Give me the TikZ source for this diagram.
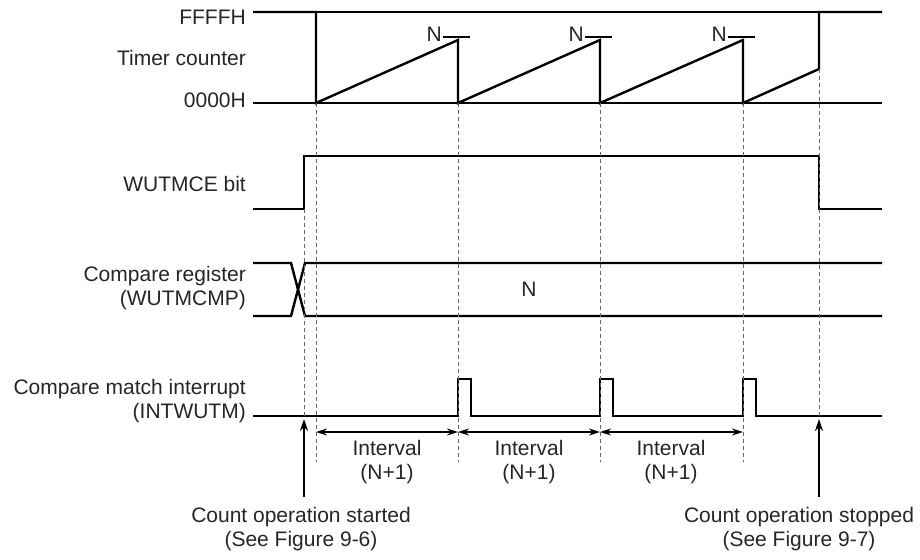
\documentclass[tikz,border=0pt]{standalone}
\usepackage{fontspec}
\setmainfont{Liberation Sans}
\usetikzlibrary{arrows.meta}
\tikzset{
	lbl/.style={font=\fontsize{21}{24}\selectfont, text=black!85, inner sep=0pt},
	wave/.style={line width=2.4pt, line join=miter},
	rail/.style={line width=1.3pt},
	guide/.style={line width=1pt, draw=black!60, dash pattern={on 4pt off 3pt}},
	span/.style={line width=1.6pt, {Stealth[length=11pt,width=7pt]}-{Stealth[length=11pt,width=7pt]}},
	pointer/.style={line width=2pt, -{Stealth[length=12pt,width=8pt]}}
}
\begin{document}
\begin{tikzpicture}[x=1pt, y=-1pt]
	\useasboundingbox (0, 0) rectangle (920, 559);
	% Signal names:
	\node[lbl, anchor=east] (ffff) at (246, 17){FFFFH};
	\node[lbl, anchor=east] (tmr) at (246, 58){Timer counter};
	\node[lbl, anchor=east] (zero) at (246, 100){0000H};
	\node[lbl, anchor=east] (ce) at (246, 184){WUTMCE bit};
	\node[lbl, anchor=east, align=right] (cmp) at (246, 288){Compare register\\(WUTMCMP)};
	\node[lbl, anchor=east, align=right] (intr) at (246, 401){Compare match interrupt\\(INTWUTM)};
	% Timer counter:
	\draw[rail] (316, 12) -- (819, 12);
	\draw[rail] (253, 103) -- (882, 103);
	\draw[wave] (253, 12) -- (316, 12) -- (316, 103) -- (458, 40) -- (458, 103) -- (600, 40) -- (600, 103)
		-- (743, 40) -- (743, 103) -- (819, 69) -- (819, 12) -- (882, 12);
	\foreach \px/\nm in {458/na, 600/nb, 743/nc}{
		\draw[rail] (\px-15, 37) -- (\px+12, 37);
		\node[lbl, anchor=east] (\nm) at (\px-16, 34){N};
	}
	% WUTMCE bit:
	\draw[wave] (253, 209) -- (304, 209) -- (304, 156) -- (819, 156) -- (819, 209) -- (882, 209);
	% Compare register:
	\draw[wave] (253, 263) -- (291, 263) -- (305, 316) -- (882, 316);
	\draw[wave] (253, 316) -- (291, 316) -- (305, 263) -- (882, 263);
	\node[lbl] (cmpn) at (529, 289){N};
	% Compare match interrupt:
	\draw[wave] (253, 416) -- (458, 416) -- (458, 379) -- (471, 379) -- (471, 416) -- (600, 416) -- (600, 379)
		-- (613, 379) -- (613, 416) -- (743, 416) -- (743, 379) -- (756, 379) -- (756, 416) -- (882, 416);
	% Timing guides:
	\coordinate (t0) at (316, 432);
	\coordinate (t1) at (458, 432);
	\coordinate (t2) at (600, 432);
	\coordinate (t3) at (743, 432);
	\draw[guide] (304, 209) -- (304, 418);
	\draw[guide] (316, 103) -- (316, 462);
	\draw[guide] (458, 103) -- (458, 462);
	\draw[guide] (600, 103) -- (600, 462);
	\draw[guide] (743, 103) -- (743, 462);
	\draw[guide] (819, 69) -- (819, 416);
	% Intervals:
	\draw[span] (t0) -- (t1);
	\draw[span] (t1) -- (t2);
	\draw[span] (t2) -- (t3);
	\node[lbl, align=center] (iva) at (387, 462){Interval\\(N+1)};
	\node[lbl, align=center] (ivb) at (529, 462){Interval\\(N+1)};
	\node[lbl, align=center] (ivc) at (671, 462){Interval\\(N+1)};
	% Start and stop:
	\node[lbl, align=center, anchor=north] (start) at (301, 507){Count operation started\\(See Figure 9-6)};
	\node[lbl, align=center, anchor=north] (stop) at (799, 507){Count operation stopped\\(See Figure 9-7)};
	\coordinate (sta) at (304, 419);
	\coordinate (sto) at (819, 419);
	\draw[pointer] (304, 497) -- (sta);
	\draw[pointer] (819, 497) -- (sto);
\end{tikzpicture}
\end{document}
